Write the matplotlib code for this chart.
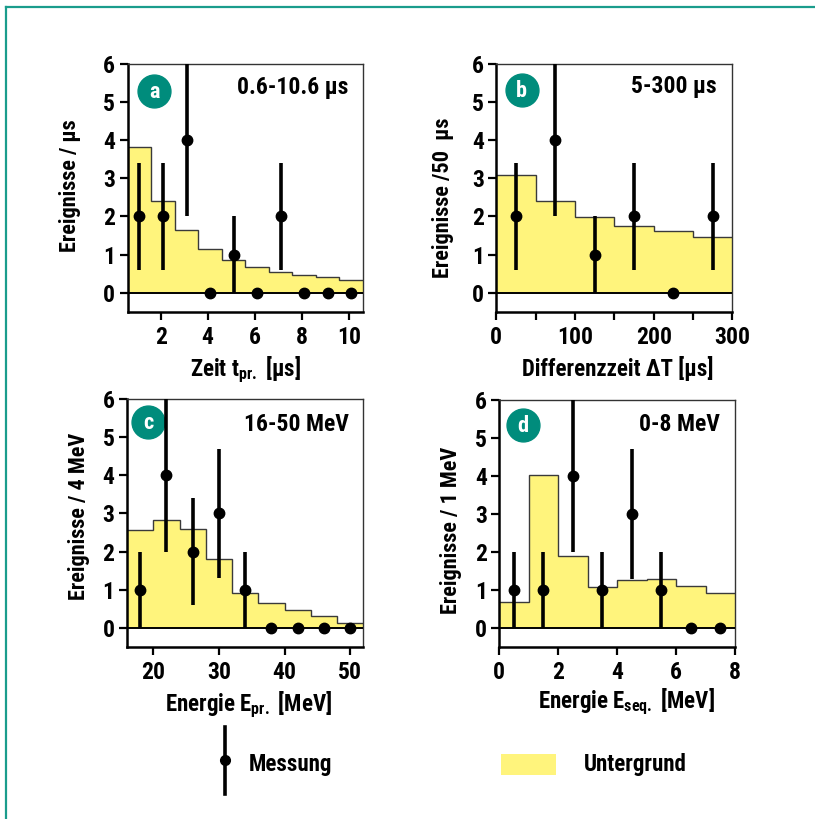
import os
import matplotlib
matplotlib.use('Agg')
import matplotlib.pyplot as plt
from matplotlib import font_manager
from matplotlib.lines import Line2D
from matplotlib.patches import Rectangle


# schmale fette Grotesk suchen (Condensed/Narrow Bold), sonst DejaVu Sans
def pick_font():
    prefer = ['roboto', 'liberation', 'noto', 'opensans', 'open', 'lato', 'inter', 'dejavu']
    best, best_rank = None, len(prefer) + 1
    for f in font_manager.fontManager.ttflist:
        b = os.path.basename(f.fname).lower().replace('_', '').replace(' ', '')
        if 'serif' in b.replace('sansserif', '') or 'mono' in b or 'italic' in b:
            continue
        if not ('condensed' in b or 'narrow' in b):
            continue
        if 'extracondensed' in b or 'semicondensed' in b or 'ultracondensed' in b:
            continue
        if 'bold' not in b or 'extrabold' in b or 'semibold' in b:
            continue
        rank = next((i for i, p in enumerate(prefer) if b.startswith(p)), len(prefer))
        if rank < best_rank:
            best, best_rank = f, rank
    return best


font = pick_font()
if font is not None:
    plt.rcParams['font.family'] = [font.name, 'DejaVu Sans']
    plt.rcParams['font.stretch'] = font.stretch
    plt.rcParams['font.weight'] = font.weight
else:
    plt.rcParams['font.family'] = ['DejaVu Sans']
    plt.rcParams['font.weight'] = 'bold'
plt.rcParams['axes.labelweight'] = plt.rcParams['font.weight']
plt.rcParams['mathtext.default'] = 'regular'

YELLOW = '#fff47c'
TEAL = '#008c7c'
FRAME = '#1a9c8c'

# (a) Zeit t_pr.
a_edges = [0.6, 1.6, 2.6, 3.6, 4.6, 5.6, 6.6, 7.6, 8.6, 9.6, 10.6]
a_bg = [3.83, 2.41, 1.65, 1.15, 0.86, 0.66, 0.53, 0.46, 0.42, 0.33]
a_x = [1.1, 2.1, 3.1, 4.1, 5.1, 6.1, 7.1, 8.1, 9.1, 10.1]
a_n = [2, 2, 4, 0, 1, 0, 2, 0, 0, 0]
a_err = [1.4, 1.4, 2.0, 0, 1.0, 0, 1.4, 0, 0, 0]

# (b) Differenzzeit
b_edges = [0, 50, 100, 150, 200, 250, 300]
b_bg = [3.1, 2.41, 1.99, 1.76, 1.61, 1.45]
b_x = [25, 75, 125, 175, 225, 275]
b_n = [2, 4, 1, 2, 0, 2]
b_err = [1.4, 2.0, 1.0, 1.4, 0, 1.4]

# (c) Energie E_pr.
c_edges = [16, 20, 24, 28, 32, 36, 40, 44, 48, 52]
c_bg = [2.57, 2.82, 2.6, 1.8, 0.92, 0.65, 0.47, 0.31, 0.12]
c_x = [18, 22, 26, 30, 34, 38, 42, 46, 50]
c_n = [1, 4, 2, 3, 1, 0, 0, 0, 0]
c_err = [1.0, 2.0, 1.4, 1.7, 1.0, 0, 0, 0, 0]

# (d) Energie E_seq.
d_edges = [0, 1, 2, 3, 4, 5, 6, 7, 8]
d_bg = [0.69, 4.04, 1.9, 1.08, 1.27, 1.29, 1.11, 0.92]
d_x = [0.5, 1.5, 2.5, 3.5, 4.5, 5.5, 6.5, 7.5]
d_n = [1, 1, 4, 1, 3, 1, 0, 0]
d_err = [1.0, 1.0, 2.0, 1.0, 1.7, 1.0, 0, 0]

W, H = 815, 819
fig = plt.figure(figsize=(W / 100, H / 100), dpi=100)


def px_axes(x0, y0, x1, y1):
    return fig.add_axes([x0 / W, 1 - y1 / H, (x1 - x0) / W, (y1 - y0) / H])


def panel(ax, edges, bg, x, n, err, xlim, xticks, xticklabels, xlabel, ylabel, letter, rng,
          lpos, rpos, xlab_pos, ylab_pos):
    ax.stairs(bg, edges, fill=True, facecolor=YELLOW, edgecolor='none', zorder=1)
    ax.stairs(bg, edges, baseline=None, color='#3a3a3a', lw=1.0, zorder=2)
    ax.axhline(0, color='black', lw=1.4, zorder=3)
    ax.errorbar(x, n, yerr=err, fmt='o', color='black', ms=7.5, elinewidth=2.6,
                capsize=0, zorder=5, clip_on=True)
    ax.set_xlim(*xlim)
    ax.set_ylim(-0.5, 6)
    ax.set_yticks(range(7))
    ax.set_xticks(xticks)
    ax.set_xticklabels(xticklabels)
    ax.tick_params(axis='both', direction='out', length=6, width=1.6, labelsize=17)
    ax.tick_params(axis='y', pad=3)
    ax.tick_params(axis='x', pad=4)
    for s in ('left', 'bottom'):
        ax.spines[s].set_linewidth(1.8)
        ax.spines[s].set_color('black')
    for s in ('top', 'right'):
        ax.spines[s].set_linewidth(1.0)
        ax.spines[s].set_color('#333333')
    ax.set_xlabel(xlabel, fontsize=16.5, va='baseline')
    ax.xaxis.set_label_coords(*xlab_pos)
    ax.set_ylabel(ylabel, fontsize=16, va='center')
    ax.yaxis.set_label_coords(*ylab_pos)
    ax.scatter([lpos[0]], [lpos[1]], s=560, color=TEAL, transform=ax.transAxes,
               zorder=4, clip_on=False)
    ax.text(lpos[0], lpos[1] - 0.005, letter, transform=ax.transAxes, ha='center', va='center',
            color='white', fontsize=16, zorder=6)
    ax.text(rpos[0], rpos[1], rng, transform=ax.transAxes, ha='right', va='center',
            fontsize=17, zorder=6)


ax_a = px_axes(127.7, 64, 363, 311.7)
panel(ax_a, a_edges, a_bg, a_x, a_n, a_err, (0.6, 10.6), [2, 4, 6, 8, 10],
      ['2', '4', '6', '8', '10'], 'Zeit t$_{\\mathregular{pr.}}$ [μs]', 'Ereignisse / μs',
      'a', '0.6-10.6 μs', (0.112, 0.892), (0.936, 0.905), (0.5, -0.26), (-0.245, 0.507))

ax_b = px_axes(496.3, 64, 732.3, 311.7)
panel(ax_b, b_edges, b_bg, b_x, b_n, b_err, (0, 300), [0, 50, 100, 150, 200, 250, 300],
      ['0', '', '100', '', '200', '', '300'], 'Differenzzeit ΔT [μs]', 'Ereignisse /50  μs',
      'b', '5-300 μs', (0.108, 0.895), (0.934, 0.91), (0.514, -0.26), (-0.226, 0.46))

ax_c = px_axes(127, 399.3, 363.3, 646.7)
panel(ax_c, c_edges, c_bg, c_x, c_n, c_err, (16, 52), [20, 30, 40, 50],
      ['20', '30', '40', '50'], 'Energie E$_{\\mathregular{pr.}}$ [MeV]', 'Ereignisse / 4 MeV',
      'c', '16-50 MeV', (0.09, 0.909), (0.937, 0.898), (0.514, -0.26), (-0.203, 0.526))

ax_d = px_axes(499.3, 400, 735, 647.3)
panel(ax_d, d_edges, d_bg, d_x, d_n, d_err, (0, 8), [0, 2, 4, 6, 8],
      ['0', '2', '4', '6', '8'], 'Energie E$_{\\mathregular{seq.}}$ [MeV]', 'Ereignisse / 1 MeV',
      'd', '0-8 MeV', (0.099, 0.899), (0.936, 0.9), (0.54, -0.245), (-0.205, 0.474))

# Rahmen links und oben
fig.add_artist(Line2D([6 / W, 6 / W], [0, 1 - 7 / H], color=FRAME, lw=1.6))
fig.add_artist(Line2D([6 / W, 1], [1 - 7 / H, 1 - 7 / H], color=FRAME, lw=1.6))

# Legende
fig.add_artist(Line2D([225 / W, 225 / W], [1 - 727 / H, 1 - 794 / H], color='black', lw=2.6))
fig.add_artist(Line2D([225 / W], [1 - 760 / H], marker='o', ms=7, color='black'))
fig.text(249 / W, 1 - 765 / H, 'Messung', ha='left', va='center', fontsize=16.5)
fig.add_artist(Rectangle((501 / W, 1 - 775 / H), 55 / W, 21 / H, facecolor=YELLOW,
                         edgecolor='none', transform=fig.transFigure))
fig.text(584 / W, 1 - 765 / H, 'Untergrund', ha='left', va='center', fontsize=16.5)

fig.savefig('out.png', dpi=100)
